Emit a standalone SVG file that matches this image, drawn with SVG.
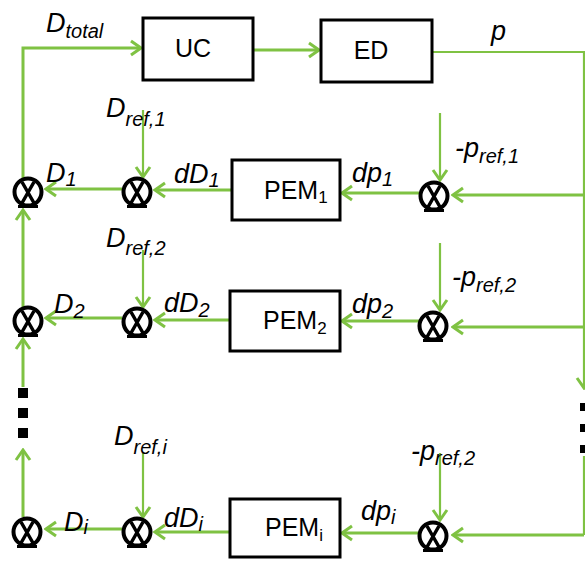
<svg xmlns="http://www.w3.org/2000/svg" width="585" height="562" viewBox="0 0 585 562">
<style>
.ln{fill:none;stroke:#7fc243;stroke-width:3}
.ln2{fill:none;stroke:#7fc243;stroke-width:2.2}
.box{fill:#fff;stroke:#000;stroke-width:3}
.bl{font-family:"Liberation Sans",Arial,sans-serif;font-size:25px;fill:#000}
.lb{font-family:"Liberation Sans",Arial,sans-serif;font-style:italic;font-size:27px;fill:#000}
.sb{font-size:20px}
.sq{fill:#000}
</style>
<defs>
<marker id="ah" markerUnits="userSpaceOnUse" markerWidth="14" markerHeight="18" refX="12" refY="9" orient="auto">
<path d="M2,2 L12,9 L2,16" fill="none" stroke="#7fc243" stroke-width="3"/>
</marker>
<g id="sum">
<circle cx="0" cy="0" r="13.5" fill="#fff" stroke="#000" stroke-width="4"/>
<path d="M-6,-10 L6,11 M6,-10 L-6,11" stroke="#000" stroke-width="3.5" fill="none"/>
<path d="M-10,14.5 L10,14.5" stroke="#000" stroke-width="3" fill="none"/>
</g>
</defs>

<g id="connectors">
<path class="ln" d="M23,179 L23,48 L141,48" marker-end="url(#ah)"/>
<path class="ln" d="M253,50 L319,50" marker-end="url(#ah)"/>
<path class="ln2" d="M432,52 L584,52 L584,388" marker-end="url(#ah)"/>
<path class="ln2" d="M584,456 L584,535"/>
<path class="ln" d="M584,195 L453,195" marker-end="url(#ah)"/>
<path class="ln" d="M419,193 L342,193" marker-end="url(#ah)"/>
<path class="ln" d="M232,190 L155,190" marker-end="url(#ah)"/>
<path class="ln" d="M122,189 L46,189" marker-end="url(#ah)"/>
<path class="ln2" d="M143,110 L143,177" marker-end="url(#ah)"/>
<path class="ln2" d="M440,113 L440,180" marker-end="url(#ah)"/>
<path class="ln" d="M23,307 L23,210" marker-end="url(#ah)"/>
<path class="ln" d="M584,327 L453,327" marker-end="url(#ah)"/>
<path class="ln" d="M419,321 L342,321" marker-end="url(#ah)"/>
<path class="ln" d="M230,320 L155,320" marker-end="url(#ah)"/>
<path class="ln" d="M122,318 L46,318" marker-end="url(#ah)"/>
<path class="ln2" d="M143,250 L143,307" marker-end="url(#ah)"/>
<path class="ln2" d="M440,243 L440,310" marker-end="url(#ah)"/>
<path class="ln" d="M23,387 L23,339" marker-end="url(#ah)"/>
<path class="ln" d="M23,517 L23,450" marker-end="url(#ah)"/>
<path class="ln" d="M584,535 L453,535" marker-end="url(#ah)"/>
<path class="ln" d="M419,533 L342,533" marker-end="url(#ah)"/>
<path class="ln" d="M230,532 L155,532" marker-end="url(#ah)"/>
<path class="ln" d="M122,529 L46,529" marker-end="url(#ah)"/>
<path class="ln2" d="M143,453 L143,517" marker-end="url(#ah)"/>
<path class="ln2" d="M440,453 L440,520" marker-end="url(#ah)"/>
</g>

<g id="dots-left">
<rect class="sq" x="18" y="388" width="10" height="10"/>
<rect class="sq" x="18" y="408" width="10" height="10"/>
<rect class="sq" x="18" y="428" width="10" height="10"/>
</g>
<g id="dots-right">
<rect class="sq" x="580" y="403" width="8" height="8"/>
<rect class="sq" x="580" y="424" width="8" height="8"/>
<rect class="sq" x="580" y="445" width="8" height="8"/>
</g>

<g id="UC"><rect class="box" x="143" y="18" width="110" height="62"/><text class="bl" x="193" y="57" text-anchor="middle">UC</text></g>
<g id="ED"><rect class="box" x="321" y="20" width="111" height="62"/><text class="bl" x="371" y="59" text-anchor="middle">ED</text></g>
<g id="PEM1"><rect class="box" x="232" y="160" width="108" height="60"/><text class="bl" x="264" y="199">PEM<tspan font-size="17" dy="4">1</tspan></text></g>
<g id="PEM2"><rect class="box" x="230" y="291" width="110" height="60"/><text class="bl" x="263" y="329">PEM<tspan font-size="17" dy="5">2</tspan></text></g>
<g id="PEMi"><rect class="box" x="230" y="499" width="110" height="58"/><text class="bl" x="265" y="536">PEM<tspan font-size="17" dy="5">i</tspan></text></g>

<g id="sum-L1"><use href="#sum" x="28" y="192"/></g>
<g id="sum-M1"><use href="#sum" x="137" y="192"/></g>
<g id="sum-R1"><use href="#sum" x="434" y="196"/></g>
<g id="sum-L2"><use href="#sum" x="28" y="321"/></g>
<g id="sum-M2"><use href="#sum" x="137" y="322"/></g>
<g id="sum-R2"><use href="#sum" x="433" y="326"/></g>
<g id="sum-Li"><use href="#sum" x="27" y="532"/></g>
<g id="sum-Mi"><use href="#sum" x="137" y="532"/></g>
<g id="sum-Ri"><use href="#sum" x="433" y="536"/></g>

<g id="labels">
<text class="lb" x="46" y="32">D<tspan class="sb" dy="6">total</tspan></text>
<text class="lb" x="491" y="40" font-size="28">p</text>
<text class="lb" x="106" y="117">D<tspan class="sb" dy="9">ref,1</tspan></text>
<text class="lb" x="46" y="182">D<tspan class="sb" dy="4">1</tspan></text>
<text class="lb" x="174" y="183">dD<tspan class="sb" dy="4">1</tspan></text>
<text class="lb" x="352" y="182">dp<tspan class="sb" dy="4">1</tspan></text>
<text class="lb" x="455" y="157">-p<tspan class="sb" dy="6">ref,1</tspan></text>
<text class="lb" x="106" y="247">D<tspan class="sb" dy="8">ref,2</tspan></text>
<text class="lb" x="54" y="313">D<tspan class="sb" dy="5">2</tspan></text>
<text class="lb" x="164" y="312">dD<tspan class="sb" dy="5">2</tspan></text>
<text class="lb" x="352" y="313">dp<tspan class="sb" dy="5">2</tspan></text>
<text class="lb" x="452" y="286">-p<tspan class="sb" dy="6">ref,2</tspan></text>
<text class="lb" x="114" y="445">D<tspan class="sb" dy="9">ref,i</tspan></text>
<text class="lb" x="64" y="531">D<tspan class="sb" dy="3">i</tspan></text>
<text class="lb" x="164" y="527">dD<tspan class="sb" dy="4">i</tspan></text>
<text class="lb" x="361" y="520">dp<tspan class="sb" dy="4">i</tspan></text>
<text class="lb" x="411" y="460">-p<tspan class="sb" dy="5">ref,2</tspan></text>
</g>
</svg>
